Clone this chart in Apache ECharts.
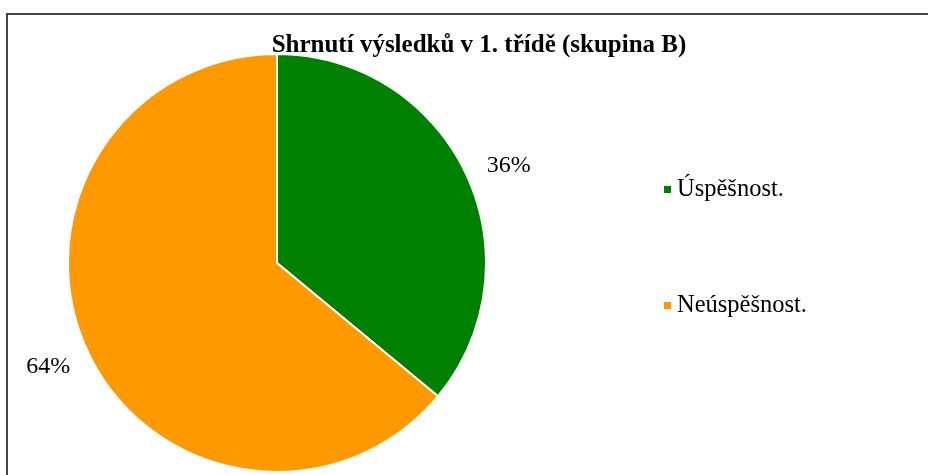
<!DOCTYPE html>
<html><head><meta charset="utf-8">
<script src="https://cdn.jsdelivr.net/npm/echarts@6/dist/echarts.min.js"></script>
<style>html,body{margin:0;padding:0;background:#fff}#c{width:928px;height:475px}</style>
</head><body><div id="c"></div>
<script>
const titleText = "Shrnutí výsledků v 1. třídě (skupina B)";
const categories = ["Úspěšnost.", "Neúspěšnost."];
const values = [36, 64];
const colors = ["#008000", "#FF9900"];
const labelOffsets = [[2, 11], [1, -4]];

const data = categories.map((n, i) => ({ name: n, value: values[i], itemStyle: { color: colors[i] } }));
const serif = "'Liberation Serif', 'Times New Roman', serif";
const chart = echarts.init(document.getElementById('c'), null, { renderer: 'canvas' });
chart.setOption({
  animation: false,
  backgroundColor: '#fff',
  title: { text: titleText, left: 474, top: 28, textAlign: 'center',
    textStyle: { fontFamily: serif, fontWeight: 'bold', fontSize: 25, color: '#000' } },
  legend: { orient: 'vertical', left: 659, top: 172, itemGap: 91, icon: 'rect', itemWidth: 7, itemHeight: 7,
    itemStyle: { borderWidth: 0 },
    data: categories, textStyle: { fontFamily: serif, fontSize: 24.5, color: '#000', padding: [0,0,0,1] } },
  graphic: [{ type: 'rect', shape: { x: 7, y: 14, width: 1000, height: 1000 }, style: { fill: 'none', stroke: '#444', lineWidth: 2 }, z: 100 }],
  series: [
    { type: 'pie', center: [277, 263], radius: [0, 209], startAngle: 90, clockwise: true,
      data: data, label: { show: false }, labelLine: { show: false },
      itemStyle: { borderColor: '#fff', borderWidth: 2 } },
    { type: 'pie', center: [277, 263], radius: [240, 262], startAngle: 90, clockwise: true, silent: true,
      legendHoverLink: false,
      data: data.map((d, i) => ({ name: d.name, value: d.value, itemStyle: { color: 'rgba(0,0,0,0)' },
        label: { offset: labelOffsets[i] } })),
      label: { show: true, position: 'inside', formatter: p => p.value + '%', fontFamily: serif, fontSize: 24, color: '#000' },
      labelLine: { show: false } }
  ]
});
</script></body></html>
